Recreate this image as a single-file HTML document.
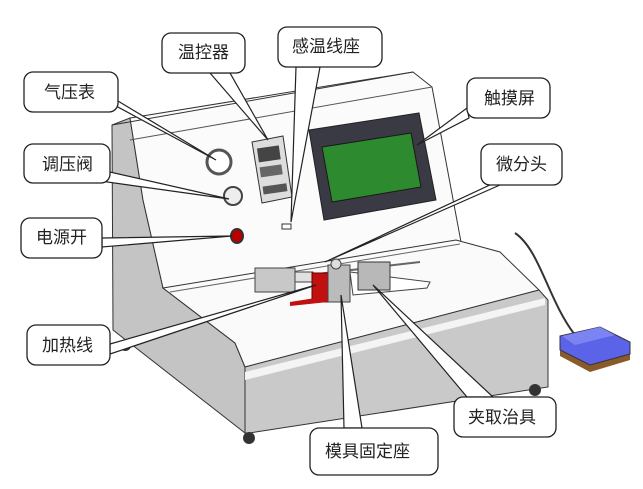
<!DOCTYPE html>
<html><head><meta charset="utf-8"><style>
html,body{margin:0;padding:0;background:#fff;width:643px;height:489px;overflow:hidden}
svg{display:block}
text{font-family:"Liberation Sans","Noto Sans CJK SC",sans-serif;font-size:17px;fill:#222}
</style></head><body>
<svg width="643" height="489" viewBox="0 0 643 489" xmlns="http://www.w3.org/2000/svg">
<!-- left side panel -->
<polygon points="112,125 130,118 143,200 163,288 235,343 245,367 245,433 113,330" fill="#c4c4c4" stroke="#333" stroke-width="1"/>
<!-- upper panel front -->
<polygon points="130,118 413,72 432,87 470,290 163,288 143,200" fill="#fbfbfb" stroke="#333" stroke-width="1"/>
<line x1="112" y1="125" x2="413" y2="72" stroke="#333"/>
<line x1="130" y1="140" x2="432" y2="87" stroke="#555"/>
<!-- deck top -->
<polygon points="163,288 456,240 500,252 539,290 245,367 235,343" fill="#fafafa" stroke="#333"/>
<line x1="170" y1="292" x2="460" y2="244" stroke="#666"/>
<!-- deck front face -->
<polygon points="245,367 539,290 548,300 548,387 249,433 245,433" fill="#c9c9c9" stroke="#333"/>
<line x1="245" y1="367" x2="245" y2="433" stroke="#333"/>
<polygon points="245,372 545,298 545,305 245,380" fill="#f4f4f4"/>
<!-- feet -->
<ellipse cx="125" cy="346" rx="6" ry="5" fill="#333"/>
<ellipse cx="249" cy="438" rx="6" ry="6" fill="#333"/>
<ellipse cx="535" cy="390" rx="6" ry="6" fill="#333"/>
<!-- gauge, knob, switch -->
<circle cx="219" cy="162" r="12" fill="#fff" stroke="#555" stroke-width="3"/>
<circle cx="233" cy="196" r="9" fill="#eee" stroke="#444" stroke-width="2"/>
<ellipse cx="237" cy="236" rx="6" ry="7" fill="#b00" stroke="#333" stroke-width="2"/>
<!-- temp controller -->
<polygon points="252,142 283,136 292,197 262,203" fill="#ddd" stroke="#333"/>
<rect x="258" y="147" width="22" height="14" fill="#444" transform="rotate(-8 268 155)"/>
<rect x="260" y="166" width="22" height="10" fill="#666" transform="rotate(-8 270 170)"/>
<rect x="263" y="185" width="24" height="8" fill="#555" transform="rotate(-8 274 189)"/>
<rect x="282" y="224" width="9" height="5" fill="#fff" stroke="#333"/>
<!-- touch screen -->
<polygon points="309,130 419,113 436,200 324,220" fill="#3a3a44" stroke="#222"/>
<polygon points="322,147 411,133 421,187 332,202" fill="#2e8a2e" stroke="#1a1a1a"/>
<!-- mechanism -->
<polygon points="350,272 430,282 427,288 353,295" fill="#fff" stroke="#444"/>
<line x1="300" y1="276" x2="420" y2="262" stroke="#666" stroke-width="2"/>
<rect x="255" y="268" width="40" height="24" fill="#c8c8c8" stroke="#444"/>
<rect x="295" y="272" width="18" height="10" fill="#e0e0e0" stroke="#444"/>
<rect x="312" y="273" width="16" height="29" fill="#c01010" stroke="#600"/>
<polygon points="290,302 328,296 328,302 290,306" fill="#c01010"/>
<rect x="328" y="265" width="22" height="37" fill="#bbb" stroke="#444"/>
<circle cx="336" cy="264" r="5" fill="#ddd" stroke="#444"/>
<rect x="358" y="262" width="32" height="28" fill="#b8b8b8" stroke="#333"/>
<!-- pedal & cable -->
<path d="M515,233 C540,250 548,300 575,335" fill="none" stroke="#333" stroke-width="2"/>
<polygon points="560,340 600,330 630,345 630,360 590,372 560,356" fill="#8a5a2a"/>
<polygon points="560,336 600,327 630,342 630,354 590,365 560,350" fill="#5b63e8" stroke="#333"/>
<polygon points="562,336 600,327 615,335 575,345" fill="#7c84f4"/>
<!-- leaders -->
<g fill="#fff" stroke="#222" stroke-width="1.2">
<polygon points="108,95 116,106 216,160"/>
<polygon points="100,181 110,172 229,199"/>
<polygon points="102,238 102,247 232,236"/>
<polygon points="210,73 230,73 268,140"/>
<polygon points="296,67 320,67 291,222"/>
<polygon points="467,108 469,118 417,145"/>
<polygon points="492,184 500,185 325,262"/>
<polygon points="110,344 110,354 316,285"/>
<polygon points="344,428 362,428 341,295"/>
<polygon points="467,397 493,397 373,285"/>
</g>
<!-- callouts -->
<g fill="#fff" stroke="#222" stroke-width="1.3">
<rect x="162" y="33" width="83" height="40" rx="9"/>
<rect x="278" y="27" width="104" height="40" rx="9"/>
<rect x="24" y="72" width="94" height="40" rx="9"/>
<rect x="467" y="78" width="83" height="40" rx="9"/>
<rect x="24" y="144" width="86" height="39" rx="9"/>
<rect x="481" y="144" width="81" height="41" rx="9"/>
<rect x="21" y="218" width="81" height="40" rx="9"/>
<rect x="27" y="325" width="83" height="40" rx="9"/>
<rect x="454" y="397" width="102" height="40" rx="9"/>
<rect x="310" y="428" width="128" height="47" rx="9"/>
</g>
<!-- cover leader ends inside boxes -->
<g fill="#fff">
<rect x="23" y="73" width="94" height="38" rx="8" opacity="0"/>
</g>
<text x="178" y="58">温控器</text>
<text x="292" y="52">感温线座</text>
<text x="44" y="98">气压表</text>
<text x="484" y="104">触摸屏</text>
<text x="42" y="170">调压阀</text>
<text x="496" y="170">微分头</text>
<text x="36" y="243">电源开</text>
<text x="42" y="351">加热线</text>
<text x="468" y="423">夹取治具</text>
<text x="325" y="457">模具固定座</text>
</svg>
</body></html>
